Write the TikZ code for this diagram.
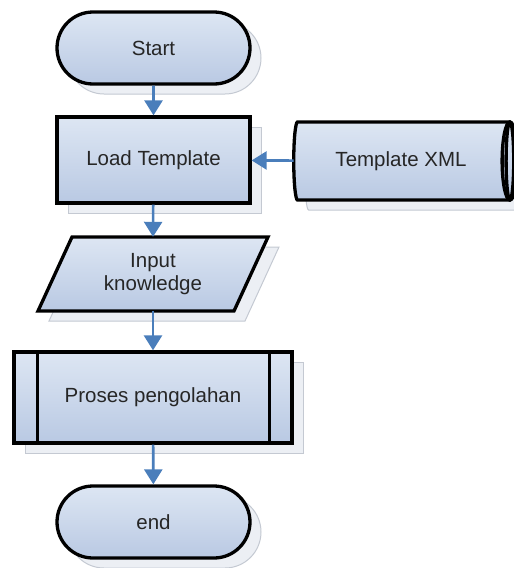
\documentclass[tikz,border=0pt]{standalone}
\usepackage{fontspec}
\setmainfont{Liberation Sans}
\usetikzlibrary{shapes.misc,shapes.geometric,arrows.meta,shadows,calc}

\definecolor{boxtop}{HTML}{DDE6F3}
\definecolor{boxbot}{HTML}{B9C9E3}
\definecolor{shadefill}{HTML}{ECEFF4}
\definecolor{shadeline}{HTML}{C4C9D2}
\definecolor{flowblue}{HTML}{4A7EBB}

\tikzset{
  flowshadow/.style={copy shadow={shadow xshift=11pt, shadow yshift=-10pt,
      fill=shadefill, draw=shadeline, line width=1pt}},
  boxline/.style={draw=black, line width=3.3pt},
  boxfill/.style={top color=boxtop, bottom color=boxbot},
  boxtext/.style={font=\fontsize{20.5}{24}\selectfont, text=black!85},
  box/.style={boxline, boxfill, boxtext, inner sep=0pt, flowshadow},
  terminal/.style={box, rounded rectangle, minimum width=193pt, minimum height=72pt},
  process/.style={box, rectangle, minimum width=193pt, minimum height=86pt},
  subprocess/.style={box, rectangle, minimum width=278pt, minimum height=91pt},
  storage/.style={box, cylinder, shape border rotate=0, aspect=0.4, outer sep=0pt,
      minimum height=220pt, minimum width=78pt},
  flow/.style={draw=flowblue, line width=2.6pt, -{Triangle[width=18pt,length=15pt]}},
}

\begin{document}
\begin{tikzpicture}[x=1pt,y=1pt]
  \useasboundingbox (0,0) rectangle (514,-568);

  % main column
  \node[terminal] (start) at (153.5,-48) {Start};
  \node[process] (load) at (153.5,-160) {Load Template};
  \node[storage] (xml) at (401,-161) {Template XML};
  % visible end face of the drum
  \draw[boxline] ($(xml.before top)!0.5!(xml.after top)$) ellipse (7.8pt and 39pt);

  % input/output parallelogram
  \begin{scope}[shift={(153,-274)}]
    \filldraw[fill=shadefill, draw=shadeline, line width=1pt, shift={(11,-10)}]
      (-81,37) -- (115,37) -- (81,-37) -- (-115,-37) -- cycle;
    \path[boxline, boxfill]
      (-81,37) -- (115,37) -- (81,-37) -- (-115,-37) -- cycle;
  \end{scope}
  \node[boxtext, align=center, inner sep=0pt, minimum width=196pt, minimum height=74pt]
    (input) at (153,-274) {Input\\[-1pt]knowledge};

  \node[subprocess] (proc) at (153,-397.5) {Proses pengolahan};
  \draw[boxline] ([xshift=25pt]proc.north west) -- ([xshift=25pt]proc.south west);
  \draw[boxline] ([xshift=-24pt]proc.north east) -- ([xshift=-24pt]proc.south east);

  \node[terminal] (end) at (153.5,-522) {end};

  % connectors
  \draw[flow] (start) -- (load);
  \draw[flow] (xml) -- (load);
  \draw[flow] (load) -- (input.north);
  \draw[flow] (input.south) -- (proc);
  \draw[flow] (proc) -- (end);
\end{tikzpicture}
\end{document}
